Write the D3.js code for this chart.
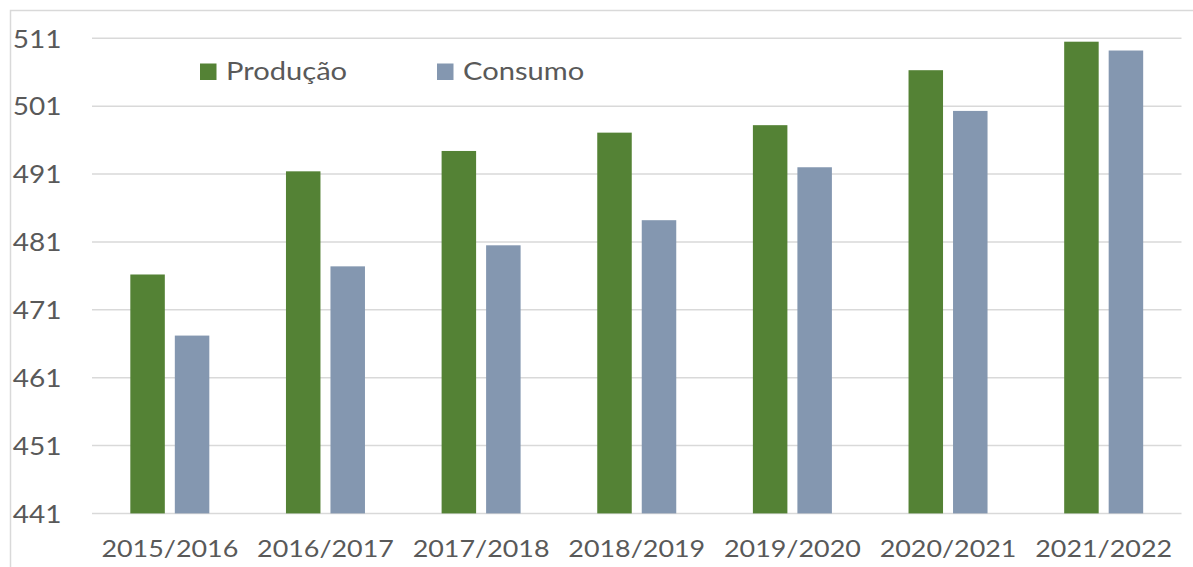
<!DOCTYPE html>
<html>
<head>
<meta charset="utf-8">
<script src="https://cdn.jsdelivr.net/npm/d3@7"></script>
<style>
  html, body { margin: 0; padding: 0; background: #fff; }
  svg { display: block; }
  text { font-family: Lato, "Open Sans", sans-serif; fill: #595959; }
</style>
</head>
<body>
<svg id="chart" width="1193" height="567"></svg>
<script>
const categories = ["2015/2016", "2016/2017", "2017/2018", "2018/2019", "2019/2020", "2020/2021", "2021/2022"];
const producao = [476.2, 491.4, 494.4, 497.1, 498.2, 506.3, 510.5];
const consumo = [467.2, 477.4, 480.5, 484.2, 492.0, 500.3, 509.2];
const seriesNames = ["Produção", "Consumo"];
const seriesColors = ["#548235", "#8497B0"];
const yTicks = [441, 451, 461, 471, 481, 491, 501, 511];

const svg = d3.select("#chart");
const W = 1193, H = 567;
const plot = { left: 92, right: 1181.5, top: 38.3, bottom: 513.4 };
const stretch = 1.12;

// Outer frame
svg.append("path")
  .attr("d", `M10.5,${H} L10.5,10.5 L${W},10.5`)
  .attr("fill", "none").attr("stroke", "#d9d9d9").attr("stroke-width", 1.5);

const x = d3.scaleBand().domain(categories).range([plot.left, plot.right]).paddingInner(0).paddingOuter(0);
const y = d3.scaleLinear().domain([441, 511]).range([plot.bottom, plot.top]);

const barW = 34.5, gap = 10;
const groupW = barW * 2 + gap;

// Gridlines
svg.append("g").selectAll("line").data(yTicks).join("line")
  .attr("x1", plot.left).attr("x2", plot.right)
  .attr("y1", d => y(d)).attr("y2", d => y(d))
  .attr("stroke", "#d9d9d9").attr("stroke-width", 1.5);

// Y axis labels
const yAxis = d3.axisLeft(y).tickValues(yTicks).tickSize(0).tickPadding(0).tickFormat(d3.format("d"));
const ya = svg.append("g").attr("transform", "translate(61.5,0)").call(yAxis);
ya.select(".domain").remove();
ya.selectAll("text").attr("font-size", 25).attr("dy", "0.35em").attr("x", 0)
  .attr("transform", `scale(${stretch},1)`)
  .style("font-family", "Lato, 'Open Sans', sans-serif").attr("fill", "#595959");

// X axis labels
const xAxis = d3.axisBottom(x).tickSize(0).tickPadding(0);
const xa = svg.append("g").attr("transform", `translate(0,${plot.bottom + 27})`).call(xAxis);
xa.select(".domain").remove();
xa.selectAll("text").attr("font-size", 24).attr("dy", "0.71em")
  .attr("transform", `scale(${stretch},1)`)
  .style("font-family", "Lato, 'Open Sans', sans-serif").attr("fill", "#595959");

// Bars
const data = [producao, consumo];
data.forEach((vals, si) => {
  svg.append("g").selectAll("rect").data(vals).join("rect")
    .attr("x", (d, i) => x(categories[i]) + x.bandwidth() / 2 - groupW / 2 + si * (barW + gap))
    .attr("width", barW)
    .attr("y", d => y(d))
    .attr("height", d => y(441) - y(d))
    .attr("fill", seriesColors[si]);
});

// Legend
const legendX = [200, 437];
seriesNames.forEach((name, i) => {
  const g = svg.append("g").attr("transform", `translate(${legendX[i]},63.5)`);
  g.append("rect").attr("width", 16.5).attr("height", 16.5).attr("fill", seriesColors[i]);
  g.append("text").attr("x", 26 / stretch).attr("y", 16.5).attr("font-size", 26)
    .attr("transform", `scale(${stretch},1)`).text(name);
});
</script>
</body>
</html>
